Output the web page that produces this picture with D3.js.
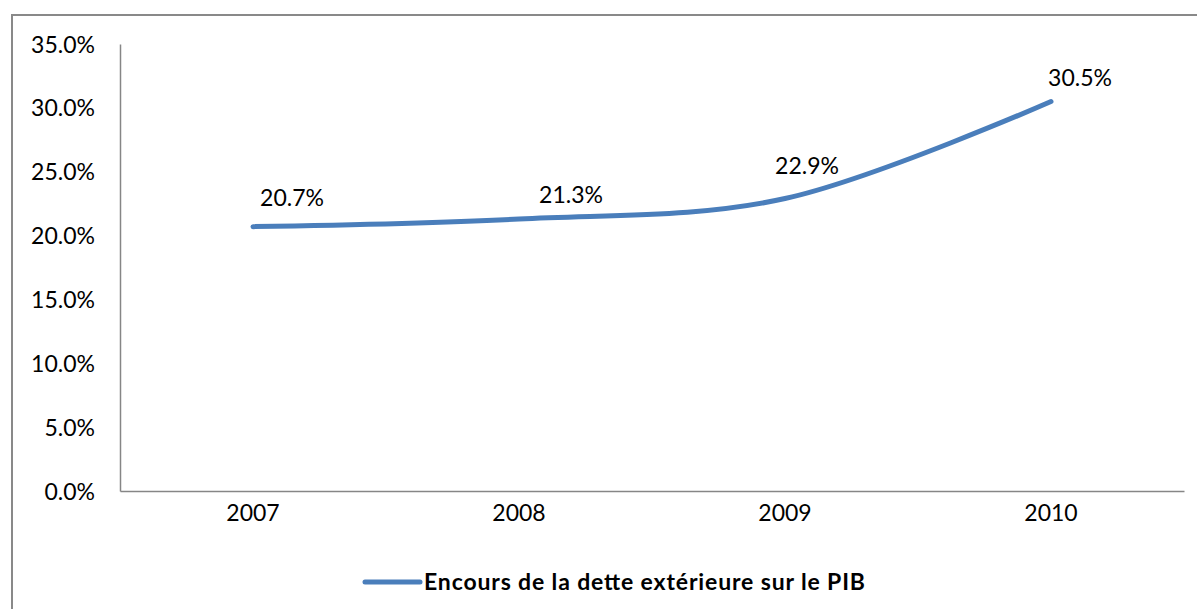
<!DOCTYPE html>
<html>
<head>
<meta charset="utf-8">
<script src="https://cdn.jsdelivr.net/npm/d3@7"></script>
<style>
  html, body { margin: 0; padding: 0; background: #fff; }
  svg { display: block; }
  text { font-family: Lato, "Open Sans", sans-serif; fill: #000; }
</style>
</head>
<body>
<svg id="chart" width="1197" height="609"></svg>
<script>
const categories = ["2007", "2008", "2009", "2010"];
const values = [20.7, 21.3, 22.9, 30.5];
const yTicks = [0, 5, 10, 15, 20, 25, 30, 35];
const seriesName = "Encours de la dette extérieure sur le PIB";
// data-label offsets (px) relative to each point, as placed in the original
const labelDx = [39, 52, 22, 29];
const labelDy = [-29, -24, -33, -24];

const svg = d3.select("#chart");
const W = 1197, H = 609;
const plot = { left: 120, right: 1184, top: 44, bottom: 491 };

// outer frame
svg.append("rect")
  .attr("x", 12).attr("y", 15)
  .attr("width", W + 10).attr("height", H + 10)
  .attr("fill", "none").attr("stroke", "#898989").attr("stroke-width", 2);

const x = d3.scaleBand().domain(categories).range([plot.left, plot.right]);
const y = d3.scaleLinear().domain([0, 35]).range([plot.bottom, plot.top]);

// Y axis
const yAxis = svg.append("g")
  .attr("transform", `translate(${plot.left},0)`)
  .call(d3.axisLeft(y).tickValues(yTicks).tickSize(0).tickPadding(25)
    .tickFormat(d => d.toFixed(1) + "%"));
yAxis.select(".domain").attr("stroke", "#868686").attr("stroke-width", 1.5);
yAxis.selectAll("text").style("font-size", "23px").attr("dy", "0.35em");

// X axis
const xAxis = svg.append("g")
  .attr("transform", `translate(0,${plot.bottom})`)
  .call(d3.axisBottom(x).tickSize(0).tickPadding(22).tickSizeOuter(0));
xAxis.select(".domain").attr("stroke", "#868686").attr("stroke-width", 1.5);
xAxis.selectAll("text").style("font-size", "23px").attr("dy", "0.35em");

const cx = d => x(d) + x.bandwidth() / 2;
const pts = categories.map((c, i) => [cx(c), y(values[i])]);

// line
svg.append("path")
  .datum(pts)
  .attr("fill", "none")
  .attr("stroke", "#4A7EBB")
  .attr("stroke-width", 5)
  .attr("stroke-linecap", "round")
  .attr("d", d3.line().curve(d3.curveCardinal.tension(0)));

// data labels
svg.append("g").selectAll("text")
  .data(values)
  .join("text")
  .attr("x", (d, i) => pts[i][0] + labelDx[i])
  .attr("y", (d, i) => pts[i][1] + labelDy[i])
  .attr("dy", "0.35em")
  .attr("text-anchor", "middle")
  .style("font-size", "23px")
  .text(d => d.toFixed(1) + "%");

// legend
const lg = svg.append("g").attr("transform", "translate(365,582)");
lg.append("line").attr("x1", 0).attr("x2", 55).attr("y1", 0).attr("y2", 0)
  .attr("stroke", "#4A7EBB").attr("stroke-width", 5).attr("stroke-linecap", "round");
lg.append("text").attr("x", 59).attr("y", 0).attr("dy", "0.35em")
  .style("font-size", "23px").style("font-weight", "bold")
  .attr("textLength", 441).attr("lengthAdjust", "spacing")
  .text(seriesName);
</script>
</body>
</html>
